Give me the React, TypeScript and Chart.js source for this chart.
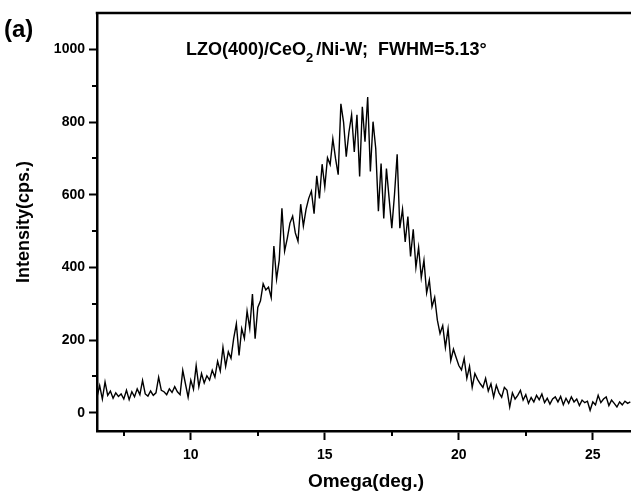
import React, { useEffect, useRef } from "react";
import { Chart, registerables } from "chart.js";

Chart.register(...registerables);

// Rocking-curve scan: omega angle (deg.) and counts per second
const omegaDeg: number[] = [
  6.5, 6.6, 6.7, 6.8, 6.9, 7.0, 7.1, 7.2, 7.3, 7.4,
  7.5, 7.6, 7.7, 7.8, 7.9, 8.0, 8.1, 8.2, 8.3, 8.4,
  8.5, 8.6, 8.7, 8.8, 8.9, 9.0, 9.1, 9.2, 9.3, 9.4,
  9.5, 9.6, 9.7, 9.8, 9.9, 10.0, 10.1, 10.2, 10.3, 10.4,
  10.5, 10.6, 10.7, 10.8, 10.9, 11.0, 11.1, 11.2, 11.3, 11.4,
  11.5, 11.6, 11.7, 11.8, 11.9, 12.0, 12.1, 12.2, 12.3, 12.4,
  12.5, 12.6, 12.7, 12.8, 12.9, 13.0, 13.1, 13.2, 13.3, 13.4,
  13.5, 13.6, 13.7, 13.8, 13.9, 14.0, 14.1, 14.2, 14.3, 14.4,
  14.5, 14.6, 14.7, 14.8, 14.9, 15.0, 15.1, 15.2, 15.3, 15.4,
  15.5, 15.6, 15.7, 15.8, 15.9, 16.0, 16.1, 16.2, 16.3, 16.4,
  16.5, 16.6, 16.7, 16.8, 16.9, 17.0, 17.1, 17.2, 17.3, 17.4,
  17.5, 17.6, 17.7, 17.8, 17.9, 18.0, 18.1, 18.2, 18.3, 18.4,
  18.5, 18.6, 18.7, 18.8, 18.9, 19.0, 19.1, 19.2, 19.3, 19.4,
  19.5, 19.6, 19.7, 19.8, 19.9, 20.0, 20.1, 20.2, 20.3, 20.4,
  20.5, 20.6, 20.7, 20.8, 20.9, 21.0, 21.1, 21.2, 21.3, 21.4,
  21.5, 21.6, 21.7, 21.8, 21.9, 22.0, 22.1, 22.2, 22.3, 22.4,
  22.5, 22.6, 22.7, 22.8, 22.9, 23.0, 23.1, 23.2, 23.3, 23.4,
  23.5, 23.6, 23.7, 23.8, 23.9, 24.0, 24.1, 24.2, 24.3, 24.4,
  24.5, 24.6, 24.7, 24.8, 24.9, 25.0, 25.1, 25.2, 25.3, 25.4,
  25.5, 25.6, 25.7, 25.8, 25.9, 26.0, 26.1, 26.2, 26.3, 26.4,
];

const intensityCps: number[] = [
  43, 75, 38, 85, 48, 60, 40, 55, 45, 52,
  38, 62, 36, 58, 44, 66, 50, 89, 52, 46,
  60, 48, 55, 98, 62, 58, 50, 66, 56, 72,
  58, 50, 117, 80, 43, 90, 65, 130, 72, 108,
  82, 102, 90, 117, 98, 142, 115, 180, 128, 168,
  150, 205, 245, 158, 232, 205, 280, 232, 327, 204,
  290, 308, 355, 338, 346, 317, 459, 368, 420, 563,
  445, 480, 522, 541, 495, 472, 574, 514, 560, 590,
  610, 548, 652, 590, 684, 622, 702, 683, 754, 700,
  655, 850, 800, 705, 772, 820, 718, 820, 650, 842,
  746, 869, 664, 801, 728, 555, 686, 535, 672, 590,
  508, 600, 711, 508, 560, 470, 540, 430, 505, 400,
  455, 372, 420, 330, 365, 292, 318, 255, 218, 240,
  180, 231, 144, 175, 152, 130, 118, 150, 95, 128,
  70, 108, 92, 80, 70, 95, 60, 80, 43, 76,
  55, 43, 70, 62, 16, 55, 38, 48, 62, 35,
  50, 26, 42, 30, 48, 36, 52, 28, 40, 24,
  38, 44, 30, 45, 22, 40, 26, 44, 30, 38,
  20, 35, 28, 32, 7, 30, 22, 48, 28, 38,
  44, 20, 35, 26, 16, 30, 22, 32, 26, 30,
];

const xTickValues: number[] = [10, 15, 20, 25];
const xMinorTickValues: number[] = [7.5, 12.5, 17.5, 22.5];
const yTickValues: number[] = [0, 200, 400, 600, 800, 1000];
const yMinorTickValues: number[] = [100, 300, 500, 700, 900];

const panelLabel = "(a)";
const titleMain = "LZO(400)/CeO";
const titleSub = "2";
const titleRest = "/Ni-W;  FWHM=5.13°";
const xTitle = "Omega(deg.)";
const yTitle = "Intensity(cps.)";

const FONT = "'Liberation Sans', Arial, sans-serif";

const decorations = {
  id: "decorations",
  afterDraw(chart: any) {
    const { ctx, chartArea, scales } = chart;
    const xs = scales.x;
    const ys = scales.y;
    ctx.save();
    ctx.strokeStyle = "#000";
    ctx.fillStyle = "#000";

    // frame: top and right edges
    ctx.lineWidth = 2.5;
    ctx.beginPath();
    ctx.moveTo(chartArea.left - 1.25, chartArea.top);
    ctx.lineTo(chartArea.right, chartArea.top);
    ctx.lineTo(chartArea.right, chartArea.bottom);
    ctx.stroke();

    // minor ticks
    ctx.lineWidth = 2;
    ctx.beginPath();
    for (const v of xMinorTickValues) {
      const px = Math.round(xs.getPixelForValue(v));
      ctx.moveTo(px, chartArea.bottom);
      ctx.lineTo(px, chartArea.bottom + 5);
    }
    for (const v of yMinorTickValues) {
      const py = Math.round(ys.getPixelForValue(v));
      ctx.moveTo(chartArea.left, py);
      ctx.lineTo(chartArea.left - 5, py);
    }
    ctx.stroke();

    // panel label
    ctx.textBaseline = "alphabetic";
    ctx.textAlign = "left";
    ctx.font = `bold 24px ${FONT}`;
    ctx.fillText(panelLabel, 4, 37);

    // title with subscript
    let x = 186;
    const base = 55;
    ctx.font = `bold 18px ${FONT}`;
    ctx.fillText(titleMain, x, base);
    x += ctx.measureText(titleMain).width;
    ctx.font = `bold 13px ${FONT}`;
    ctx.fillText(titleSub, x, base + 7);
    x += ctx.measureText(titleSub).width + 3;
    ctx.font = `bold 18px ${FONT}`;
    ctx.fillText(titleRest, x, base);

    // axis titles
    ctx.font = `bold 19px ${FONT}`;
    ctx.textAlign = "center";
    ctx.fillText(xTitle, 366, 487);
    ctx.font = `bold 18px ${FONT}`;
    ctx.save();
    ctx.translate(29, 222);
    ctx.rotate(-Math.PI / 2);
    ctx.fillText(yTitle, 0, 0);
    ctx.restore();

    ctx.restore();
  },
};

export default function App() {
  const canvasRef = useRef<HTMLCanvasElement | null>(null);

  useEffect(() => {
    const canvas = canvasRef.current;
    if (!canvas) return;
    const points = omegaDeg.map((x, i) => ({ x, y: intensityCps[i] }));
    const chart = new Chart(canvas, {
      type: "line",
      data: {
        datasets: [
          {
            data: points,
            borderColor: "#000",
            borderWidth: 1.4,
            pointRadius: 0,
            tension: 0,
            fill: false,
          },
        ],
      },
      options: {
        responsive: false,
        animation: false,
        devicePixelRatio: 1,
        layout: { padding: { top: 13, right: 7, left: 0, bottom: 0 } },
        plugins: { legend: { display: false }, tooltip: { enabled: false } },
        scales: {
          x: {
            type: "linear",
            min: 6.5,
            max: 26.5,
            afterBuildTicks: (s: any) => {
              s.ticks = xTickValues.map((v) => ({ value: v }));
            },
            afterFit: (s: any) => {
              s.height = 62;
            },
            grid: {
              display: true,
              drawOnChartArea: false,
              drawTicks: true,
              tickLength: 9,
              tickWidth: 2,
              tickColor: "#000",
            },
            border: { display: true, color: "#000", width: 2.5 },
            ticks: {
              color: "#000",
              font: { family: FONT, weight: "bold", size: 14 },
              padding: 7,
              maxRotation: 0,
              autoSkip: false,
              callback: (v: any) => String(v),
            },
          },
          y: {
            type: "linear",
            min: -50,
            max: 1100,
            afterBuildTicks: (s: any) => {
              s.ticks = yTickValues.map((v) => ({ value: v }));
            },
            afterFit: (s: any) => {
              s.width = 97;
            },
            grid: {
              display: true,
              drawOnChartArea: false,
              drawTicks: true,
              tickLength: 8,
              tickWidth: 2,
              tickColor: "#000",
            },
            border: { display: true, color: "#000", width: 2.5 },
            ticks: {
              color: "#000",
              font: { family: FONT, weight: "bold", size: 14 },
              padding: 4,
              autoSkip: false,
              callback: (v: any) => String(v),
            },
          },
        },
      },
      plugins: [decorations],
    });
    return () => chart.destroy();
  }, []);

  return (
    <div
      style={{
        position: "fixed",
        left: 0,
        top: 0,
        width: 631,
        height: 493,
        overflow: "hidden",
        background: "#fff",
      }}
    >
      <canvas
        ref={canvasRef}
        width={640}
        height={493}
        style={{ display: "block", width: 640, height: 493 }}
      />
    </div>
  );
}
